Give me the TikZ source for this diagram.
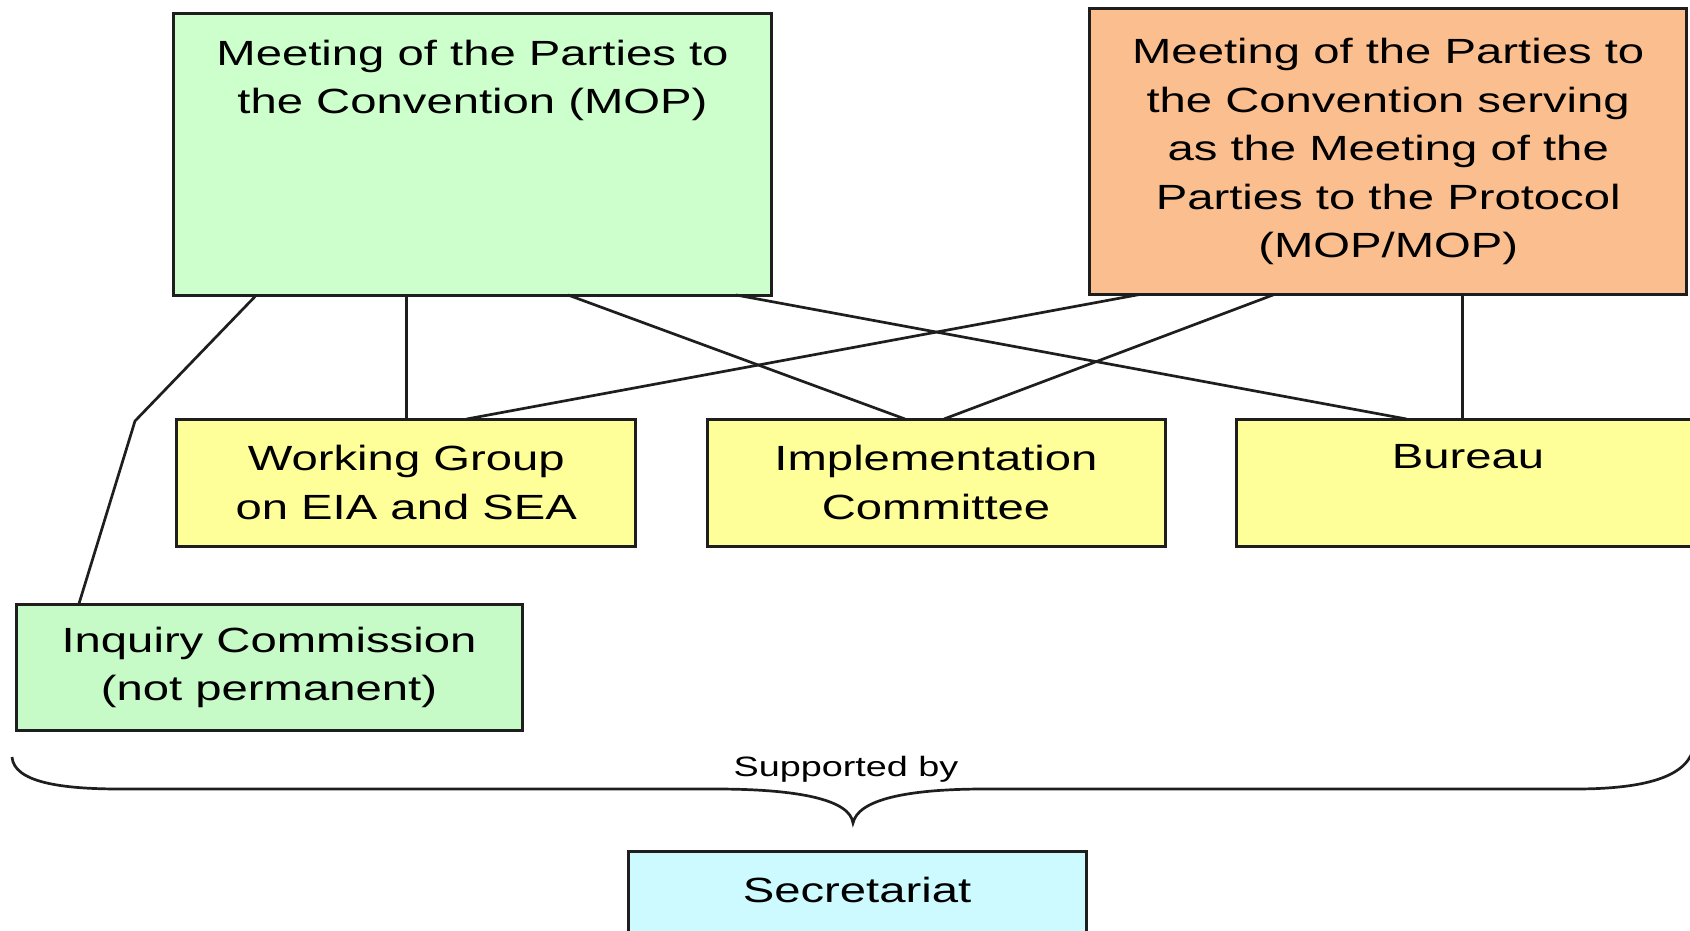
\documentclass[tikz,border=0pt]{standalone}
\usepackage{fontspec}
\setmainfont[FakeStretch=1.35]{Liberation Sans}
\usetikzlibrary{positioning}
\definecolor{mopgreen}{RGB}{204,255,204}
\definecolor{inqgreen}{RGB}{198,250,198}
\definecolor{mopmoporange}{RGB}{251,191,143}
\definecolor{bodyyellow}{RGB}{255,255,153}
\definecolor{secrcyan}{RGB}{204,250,255}
\definecolor{edge}{RGB}{30,30,30}
\tikzset{%
	box/.style={
		draw=edge,
		line width=3pt,
		outer sep=0pt,
		inner sep=0pt,
		align=center,
		anchor=north west,
		font=\fontsize{35}{48.5}\selectfont
	},
	boxtext/.style={
		inner sep=0pt,
		align=center,
		font=\fontsize{35}{48.5}\selectfont
	},
	link/.style={
		draw=edge,
		line width=2.7pt
	},
}
\begin{document}
\begin{tikzpicture}[x=1pt, y=-1pt]
			\useasboundingbox (0,0) rectangle (1690,931);
			\clip (0,0) rectangle (1690,931);
			
			% Meetings of the Parties
			\node[box, fill=mopgreen, minimum width=598pt, minimum height=281pt] (mop) at (173.5,14) {};
			\node[boxtext, below=25.5pt of mop.north] (moptext) {Meeting of the Parties to\\the Convention (MOP)};
			\node[box, fill=mopmoporange, minimum width=597pt, minimum height=286pt] (mopmop) at (1089.7,8.6) {Meeting of the Parties to\\the Convention serving\\as the Meeting of the\\Parties to the Protocol\\(MOP/MOP)};
			
			% Subsidiary bodies
			\node[box, fill=bodyyellow, minimum width=459pt, minimum height=127pt] (wg) at (176.8,419) {Working Group\\on EIA and SEA};
			\node[box, fill=bodyyellow, minimum width=458pt, minimum height=127pt] (ic) at (707,419) {Implementation\\Committee};
			\node[box, fill=bodyyellow, minimum width=464pt, minimum height=127pt] (bureau) at (1236,419) {};
			\node[boxtext, below=25.5pt of bureau.north] (bureautext) {Bureau};
			\node[box, fill=inqgreen, minimum width=506pt, minimum height=126pt] (inq) at (16,604.6) {Inquiry Commission\\(not permanent)};
			
			% Secretariat
			\node[box, fill=secrcyan, minimum width=458pt, minimum height=127pt] (secr) at (628,851) {};
			\node[boxtext, below=25.5pt of secr.north] (secrtext) {Secretariat};
			
			% Lines from the MOP
			\coordinate (bend) at (135,421);
			\draw[link] ([xshift=83pt]mop.south west) -- (bend) -- ([xshift=62.7pt]inq.north west);
			\draw[link] (wg.north) -- (wg.north |- mop.south);
			\draw[link] ([xshift=394.5pt]mop.south west) -- ([xshift=198pt]ic.north west);
			\draw[link] ([xshift=562.5pt]mop.south west) -- ([xshift=170.5pt]bureau.north west);
			
			% Lines from the MOP/MOP
			\draw[link] ([xshift=49.3pt]mopmop.south west) -- ([xshift=289.9pt]wg.north west);
			\draw[link] ([xshift=184.3pt]mopmop.south west) -- ([xshift=237pt]ic.north west);
			\draw[link] ([xshift=372.8pt]mopmop.south west) -- ([xshift=226.5pt]bureau.north west);
			
			% Brace over the secretariat
			\draw[link] (12,757) .. controls (14,782) and (60,789) .. (120,789) -- (715,789)
				.. controls (800,789) and (850,800) .. (853,823)
				.. controls (858,800) and (905,789) .. (985,789) -- (1575,789)
				.. controls (1650,789) and (1690,775) .. (1694,745);
			\node[anchor=base, inner sep=0pt, font=\fontsize{28}{34}\selectfont] (supp) at (846,776) {Supported by};
		\end{tikzpicture}
\end{document}
